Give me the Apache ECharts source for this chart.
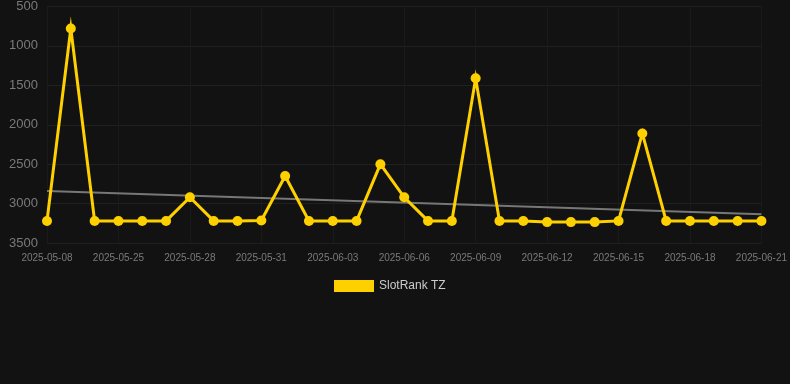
<!DOCTYPE html>
<html><head><meta charset="utf-8">
<script src="https://cdn.jsdelivr.net/npm/echarts@6/dist/echarts.min.js"></script>
<style>html,body{margin:0;padding:0;background:#121212;}#c{width:790px;height:384px;}</style>
</head><body><div id="c"></div>
<script>
const categories = ["2025-05-08","2025-05-09","2025-05-24","2025-05-25","2025-05-26","2025-05-27","2025-05-28","2025-05-29","2025-05-30","2025-05-31","2025-06-01","2025-06-02","2025-06-03","2025-06-04","2025-06-05","2025-06-06","2025-06-07","2025-06-08","2025-06-09","2025-06-10","2025-06-11","2025-06-12","2025-06-13","2025-06-14","2025-06-15","2025-06-16","2025-06-17","2025-06-18","2025-06-19","2025-06-20","2025-06-21"];
const rankValues = [3220,780,3220,3220,3220,3220,2920,3220,3220,3215,2650,3220,3220,3220,2500,2920,3220,3220,1410,3220,3220,3235,3235,3235,3220,2110,3220,3220,3220,3220,3220];
const yTicks = [500,1000,1500,2000,2500,3000,3500];
const seriesName = "SlotRank TZ";

// linear trend line fitted to the series
const n = rankValues.length;
let sx=0, sy=0, sxy=0, sxx=0;
rankValues.forEach((v,i)=>{sx+=i;sy+=v;sxy+=i*v;sxx+=i*i;});
const slope = (n*sxy - sx*sy)/(n*sxx - sx*sx);
const icpt = (sy - slope*sx)/n;
const trend = rankValues.map((v,i)=> (i===0||i===n-1) ? +(icpt+slope*i).toFixed(1) : null);

const chart = echarts.init(document.getElementById('c'));
chart.setOption({
  backgroundColor: '#121212',
  animation: false,
  grid: {left: 47, right: 28, top: 6, bottom: 141, containLabel: false},
  legend: {
    data: [{name: seriesName}],
    top: 275, left: 329,
    itemWidth: 40, itemHeight: 12, icon: 'rect',
    textStyle: {color: '#cccccc', fontSize: 12, fontFamily: 'Liberation Sans, Arial, sans-serif'}
  },
  xAxis: {
    type: 'category', data: categories, boundaryGap: false,
    axisLine: {show: false}, axisTick: {show: false},
    axisLabel: {interval: 2, color: '#7a7a7a', fontSize: 10, margin: 10, fontFamily: 'Liberation Sans, Arial, sans-serif'},
    splitLine: {show: true, interval: 2, lineStyle: {color: '#1a1a1a', width: 1}}
  },
  yAxis: {
    type: 'value', inverse: true, min: yTicks[0], max: yTicks[yTicks.length-1], interval: 500,
    axisLine: {show: false}, axisTick: {show: false},
    axisLabel: {color: '#7a7a7a', fontSize: 13, margin: 9, formatter: v => String(v), fontFamily: 'Liberation Sans, Arial, sans-serif'},
    splitLine: {show: true, lineStyle: {color: '#202020', width: 1}}
  },
  series: [
    {
      name: 'trend', type: 'line', data: trend, connectNulls: true, symbol: 'none',
      lineStyle: {color: '#777777', width: 2}, z: 1, silent: true
    },
    {
      name: seriesName, type: 'line', data: rankValues,
      symbol: 'circle', symbolSize: 10,
      itemStyle: {color: '#ffd000'},
      lineStyle: {color: '#ffd000', width: 3, join: 'miter'},
      z: 2
    }
  ]
});
</script></body></html>
